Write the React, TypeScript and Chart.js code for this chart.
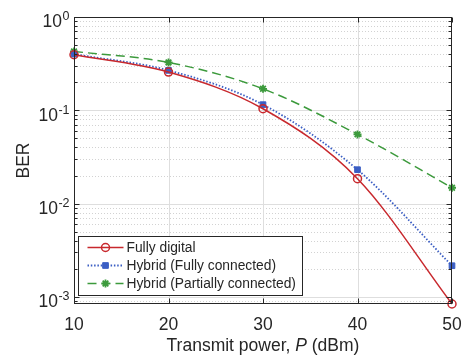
import React, { useEffect, useRef } from 'react';
import { Chart, registerables } from 'chart.js';
Chart.register(...registerables);

const powers = [10, 20, 30, 40, 50];
const fullyDigital = [0.394, 0.257, 0.104, 0.0185, 0.00084];
const hybridFull = [0.4, 0.268, 0.115, 0.0231, 0.00216];
const hybridPartial = [0.428, 0.326, 0.17, 0.0552, 0.0148];
const seriesLabels = ['Fully digital', 'Hybrid (Fully connected)', 'Hybrid (Partially connected)'];
const xTicks = [10, 20, 30, 40, 50];
const yExponents = [0, -1, -2, -3];
const xTitleParts = ['Transmit power, ', 'P', ' (dBm)'];
const yTitle = 'BER';

const FONT = '"Liberation Sans", Arial, Helvetica, sans-serif';
const TEXT = '#262626';
const RED = '#C8282D';
const BLUE = '#3B5EC4';
const GREEN = '#3C9A3C';

function drawMarker(ctx: CanvasRenderingContext2D, style: string, r: number, x: number, y: number, stroke: string, fill: string, bw: number) {
  ctx.save();
  ctx.strokeStyle = stroke;
  ctx.fillStyle = fill;
  ctx.lineWidth = bw;
  ctx.setLineDash([]);
  ctx.beginPath();
  if (style === 'circle') {
    ctx.arc(x, y, r, 0, Math.PI * 2);
    ctx.fill();
    ctx.stroke();
  } else if (style === 'rect') {
    const s = Math.SQRT1_2 * r;
    ctx.rect(x - s, y - s, 2 * s, 2 * s);
    ctx.fill();
    ctx.stroke();
  } else if (style === 'star') {
    for (let k = 0; k < 4; k++) {
      const ang = (k * Math.PI) / 4;
      ctx.moveTo(x - Math.cos(ang) * r, y - Math.sin(ang) * r);
      ctx.lineTo(x + Math.cos(ang) * r, y + Math.sin(ang) * r);
    }
    ctx.stroke();
  }
  ctx.restore();
}

const matlabPlugin = {
  id: 'matlabStyle',
  beforeDatasetsDraw(chart: any) {
    const { ctx, chartArea: a, scales } = chart;
    const x = scales.x;
    const y = scales.y;
    ctx.save();
    ctx.beginPath();
    ctx.rect(a.left, a.top, a.right - a.left, a.bottom - a.top);
    ctx.clip();
    ctx.strokeStyle = '#d2d2d2';
    ctx.lineWidth = 1;
    ctx.setLineDash([1, 2]);
    for (let e = -4; e <= 0; e++) {
      for (let m = 2; m <= 9; m++) {
        const v = m * Math.pow(10, e);
        if (v <= y.min || v >= y.max) continue;
        const py = Math.round(y.getPixelForValue(v)) + 0.5;
        ctx.beginPath();
        ctx.moveTo(a.left, py);
        ctx.lineTo(a.right, py);
        ctx.stroke();
      }
    }
    ctx.setLineDash([]);
    ctx.strokeStyle = '#dedede';
    yExponents.forEach((e) => {
      const py = Math.round(y.getPixelForValue(Math.pow(10, e))) + 0.5;
      ctx.beginPath();
      ctx.moveTo(a.left, py);
      ctx.lineTo(a.right, py);
      ctx.stroke();
    });
    xTicks.forEach((t) => {
      const px = Math.round(x.getPixelForValue(t)) + 0.5;
      ctx.beginPath();
      ctx.moveTo(px, a.top);
      ctx.lineTo(px, a.bottom);
      ctx.stroke();
    });
    ctx.restore();
  },
  afterDatasetsDraw(chart: any) {
    const { ctx, chartArea: a, scales } = chart;
    const x = scales.x;
    const y = scales.y;
    ctx.save();
    ctx.strokeStyle = '#262626';
    ctx.lineWidth = 1;
    ctx.setLineDash([]);
    const L = Math.round(a.left) + 0.5;
    const R = Math.round(a.right) - 0.5;
    const T = Math.round(a.top) + 0.5;
    const B = Math.round(a.bottom) - 0.5;
    for (let e = -4; e <= 0; e++) {
      for (let m = 1; m <= 9; m++) {
        const v = m * Math.pow(10, e);
        if (v < y.min || v > y.max) continue;
        const py = Math.round(y.getPixelForValue(v)) + 0.5;
        const len = m === 1 ? 5 : 3;
        ctx.beginPath();
        ctx.moveTo(L, py); ctx.lineTo(L + len, py);
        ctx.moveTo(R, py); ctx.lineTo(R - len, py);
        ctx.stroke();
      }
    }
    xTicks.forEach((t) => {
      const px = Math.round(x.getPixelForValue(t)) + 0.5;
      ctx.beginPath();
      ctx.moveTo(px, B); ctx.lineTo(px, B - 5);
      ctx.moveTo(px, T); ctx.lineTo(px, T + 5);
      ctx.stroke();
    });
    ctx.strokeRect(L, T, R - L, B - T);

    ctx.fillStyle = TEXT;
    ctx.font = `17.5px ${FONT}`;
    ctx.textAlign = 'center';
    ctx.textBaseline = 'alphabetic';
    xTicks.forEach((t) => {
      ctx.fillText(String(t), x.getPixelForValue(t), a.bottom + 25.5);
    });
    yExponents.forEach((e) => {
      const py = y.getPixelForValue(Math.pow(10, e));
      ctx.textAlign = 'right';
      ctx.font = `12.5px ${FONT}`;
      const es = e < 0 ? '-' + Math.abs(e) : String(e);
      const ew = ctx.measureText(es).width;
      ctx.fillText(es, 69.5, py + 3.4);
      ctx.font = `17.5px ${FONT}`;
      ctx.fillText('10', 69.5 - ew - 0.5, py + 10.4);
    });

    ctx.textAlign = 'left';
    const fonts = [`17.5px ${FONT}`, `italic 17.5px ${FONT}`, `17.5px ${FONT}`];
    let total = 0;
    xTitleParts.forEach((p, i) => { ctx.font = fonts[i]; total += ctx.measureText(p).width; });
    let cx = (a.left + a.right) / 2 - total / 2;
    xTitleParts.forEach((p, i) => {
      ctx.font = fonts[i];
      ctx.fillText(p, cx, 351);
      cx += ctx.measureText(p).width;
    });

    ctx.save();
    ctx.translate(28.5, (a.top + a.bottom) / 2);
    ctx.rotate(-Math.PI / 2);
    ctx.textAlign = 'center';
    ctx.font = `17.5px ${FONT}`;
    ctx.fillText(yTitle, 0, 0);
    ctx.restore();

    const lx = 78.5, ly = 236.5, lw = 224, lh = 59;
    ctx.fillStyle = '#ffffff';
    ctx.fillRect(lx, ly, lw, lh);
    ctx.strokeStyle = '#262626';
    ctx.lineWidth = 1;
    ctx.strokeRect(lx, ly, lw, lh);
    const rows = [246.7, 265, 283.3];
    chart.data.datasets.forEach((ds: any, i: number) => {
      const ry = Math.round(rows[i]) + 0.5;
      ctx.strokeStyle = ds.borderColor;
      ctx.lineWidth = ds.borderWidth;
      ctx.setLineDash(ds.borderDash || []);
      ctx.beginPath();
      ctx.moveTo(87.5, ry);
      ctx.lineTo(123.5, ry);
      ctx.stroke();
      ctx.setLineDash([]);
      drawMarker(ctx, ds.pointStyle, ds.pointRadius, 105.5, ry, ds.pointBorderColor, ds.pointBackgroundColor, ds.pointBorderWidth);
      ctx.fillStyle = TEXT;
      ctx.font = `13.8px ${FONT}`;
      ctx.textAlign = 'left';
      ctx.textBaseline = 'middle';
      ctx.fillText(ds.label, 126.5, ry + 0.5);
      ctx.textBaseline = 'alphabetic';
    });
    ctx.restore();
  },
};

export default function App() {
  const ref = useRef<HTMLCanvasElement | null>(null);
  useEffect(() => {
    document.body.style.margin = '0';
    const canvas = ref.current;
    if (!canvas) return;
    const chart = new Chart(canvas, {
      type: 'line',
      data: {
        labels: powers,
        datasets: [
          {
            label: seriesLabels[0],
            data: powers.map((p, i) => ({ x: p, y: fullyDigital[i] })),
            borderColor: RED,
            borderWidth: 1.5,
            pointStyle: 'circle',
            pointRadius: 4,
            pointBorderColor: RED,
            pointBackgroundColor: 'rgba(255,255,255,0)',
            pointBorderWidth: 1.5,
            cubicInterpolationMode: 'monotone',
            clip: false,
          } as any,
          {
            label: seriesLabels[1],
            data: powers.map((p, i) => ({ x: p, y: hybridFull[i] })),
            borderColor: BLUE,
            borderWidth: 1.8,
            borderDash: [1.5, 1.8],
            pointStyle: 'rect',
            pointRadius: 4,
            pointBorderColor: BLUE,
            pointBackgroundColor: BLUE,
            pointBorderWidth: 1,
            cubicInterpolationMode: 'monotone',
            clip: false,
          } as any,
          {
            label: seriesLabels[2],
            data: powers.map((p, i) => ({ x: p, y: hybridPartial[i] })),
            borderColor: GREEN,
            borderWidth: 1.5,
            borderDash: [9, 5],
            pointStyle: 'star',
            pointRadius: 4,
            pointBorderColor: GREEN,
            pointBackgroundColor: GREEN,
            pointBorderWidth: 1.8,
            cubicInterpolationMode: 'monotone',
            clip: false,
          } as any,
        ],
      },
      options: {
        animation: false,
        responsive: false,
        devicePixelRatio: 1,
        layout: { padding: { left: 0, right: 11, top: 17, bottom: 0 } },
        plugins: { legend: { display: false }, tooltip: { enabled: false } },
        scales: {
          x: {
            type: 'linear',
            min: 10,
            max: 50,
            grid: { display: false },
            border: { display: false },
            ticks: { display: false },
            afterFit: (s: any) => { s.height = 52; },
          },
          y: {
            type: 'logarithmic',
            min: 8.4e-4,
            max: 1,
            grid: { display: false },
            border: { display: false },
            ticks: { display: false },
            afterFit: (s: any) => { s.width = 74; },
          },
        },
      } as any,
      plugins: [matlabPlugin],
    });
    return () => chart.destroy();
  }, []);
  return (
    <div style={{ width: 463, height: 356, background: '#fff' }}>
      <canvas ref={ref} width={463} height={356} style={{ display: 'block' }} />
    </div>
  );
}
